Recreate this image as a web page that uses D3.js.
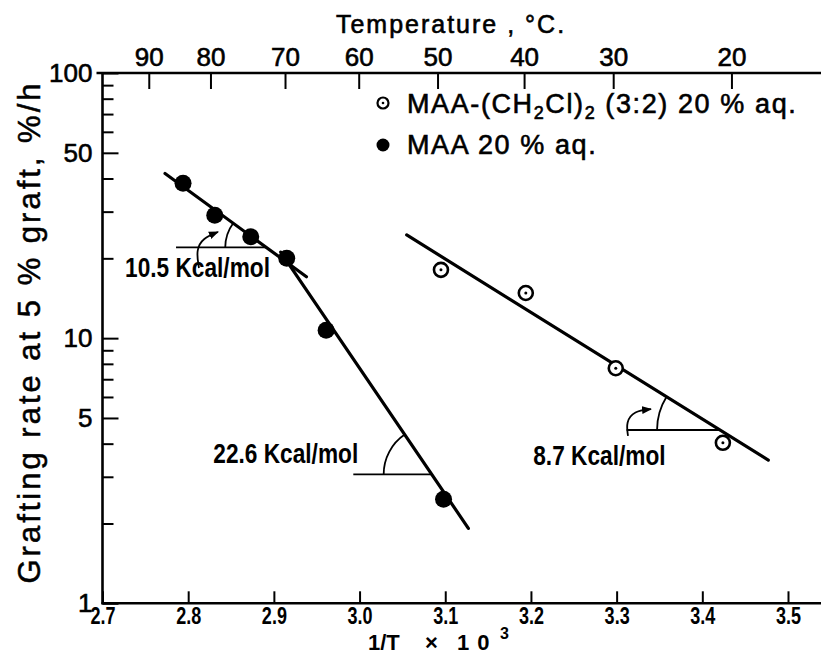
<!DOCTYPE html>
<html>
<head>
<meta charset="utf-8">
<script src="https://cdn.jsdelivr.net/npm/d3@7"></script>
<style>
  body { margin: 0; background: #fff; }
  svg { display: block; }
</style>
</head>
<body>
<svg id="chart" width="821" height="665"></svg>
<script>
// ---- data: 1/T x 10^3 (K^-1) and grafting rate at 5 % graft (%/h) ----
const maaInvT = [2.794, 2.831, 2.873, 2.915, 2.961, 3.098];
const maaRate = [38.4, 29.1, 24.1, 20.0, 10.7, 2.47];
const mixInvT = [3.095, 3.194, 3.299, 3.424];
const mixRate = [18.1, 14.8, 7.70, 4.03];

// Arrhenius fit lines, each given by its two end points
const fitInvT = [[2.773, 2.938], [2.908, 3.127], [3.055, 3.477]];
const fitRate = [[41.8, 17.05], [21.1, 1.918], [24.5, 3.47]];

// axis ticks
const xTicks = [2.7, 2.8, 2.9, 3.0, 3.1, 3.2, 3.3, 3.4, 3.5];
const xTickLabels = ["2.7", "2.8", "2.9", "3.0", "3.1", "3.2", "3.3", "3.4", "3.5"];
const yTicks = [1, 5, 10, 50, 100];
const yTickLabels = ["1", "5", "10", "50", "100"];
const yMinorTicks = [2, 3, 4, 6, 7, 8, 9, 20, 30, 40, 60, 70, 80, 90];
const tempLabels = ["90", "80", "70", "60", "50", "40", "30", "20"];
const tempInvT = [2.754, 2.826, 2.913, 2.999, 3.091, 3.192, 3.296, 3.434];

// activation-energy notes: fit line, level of the horizontal, its left end,
// arc radius (px), label anchor and optional curved arrow
const noteLabels = ["10.5 Kcal/mol", "22.6 Kcal/mol", "8.7 Kcal/mol"];
const noteLine = [0, 1, 2];
const noteLevel = [22.0, 3.066, 4.504];
const noteFrom = [2.7858, 2.9927, 3.3117];
const noteRadius = [41, 48, 63];
const noteTextInvT = [2.7263, 2.8293, 3.2027];
const noteTextRate = [17.0, 3.38, 3.32];
const noteArrowInvT = [[2.8126, 2.8091, 2.8173, 2.8348], null, [3.3133, 3.3109, 3.3203, 3.3401]];
const noteArrowRate = [[18.39, 21.5, 23.86, 25.14], null, [4.276, 4.829, 5.312, 5.404]];

// ---- layout ----
const W = 821, H = 665;
const svg = d3.select("#chart");
const ink = "#000";
const sans = "'Liberation Sans', Arial, Helvetica, sans-serif";

const x = d3.scaleLinear().domain([2.7, 3.5]).range([102.5, 788]);
const y = d3.scaleLog().domain([1, 100]).range([603.3, 73]);

const x0 = x(2.7), yB = y(1), yT = y(100);

// frame lines (left, bottom, top; the plot runs off the right edge)
svg.append("line").attr("x1", x0).attr("x2", x0).attr("y1", yB + 1).attr("y2", yT - 1)
  .attr("stroke", ink).attr("stroke-width", 2.6);
svg.append("line").attr("x1", x0 - 1).attr("x2", W).attr("y1", yB).attr("y2", yB)
  .attr("stroke", ink).attr("stroke-width", 2.6);
svg.append("line").attr("x1", x0 - 6).attr("x2", W).attr("y1", yT).attr("y2", yT)
  .attr("stroke", ink).attr("stroke-width", 2.6);

// bottom axis: 1/T x 10^3
const gx = svg.append("g").attr("transform", `translate(0,${yB})`)
  .call(d3.axisBottom(x).tickValues(xTicks).tickFormat((d, i) => xTickLabels[i])
    .tickSizeInner(-12).tickSizeOuter(0).tickPadding(4));
gx.select(".domain").remove();
gx.selectAll(".tick line").attr("stroke", ink).attr("stroke-width", 2);
gx.selectAll(".tick text")
  .attr("fill", ink).attr("font-family", sans).attr("font-weight", "bold")
  .attr("font-size", 24).attr("transform", "scale(0.75,1)");

// top axis: temperature in deg C
const gt = svg.append("g").attr("transform", `translate(0,${yT})`)
  .call(d3.axisTop(x).tickValues(tempInvT).tickFormat((d, i) => tempLabels[i])
    .tickSizeInner(-16).tickSizeOuter(0).tickPadding(7));
gt.select(".domain").remove();
gt.selectAll(".tick line").attr("stroke", ink).attr("stroke-width", 2);
gt.selectAll(".tick text")
  .attr("fill", ink).attr("font-family", sans).attr("font-size", 26)
  .attr("stroke", ink).attr("stroke-width", 0.6);

// left axis: log scale, labelled and minor ticks
const gy = svg.append("g").attr("transform", `translate(${x0},0)`)
  .call(d3.axisLeft(y).tickValues(yTicks).tickFormat((d, i) => yTickLabels[i])
    .tickSizeInner(-16).tickSizeOuter(0).tickPadding(10));
gy.select(".domain").remove();
gy.selectAll(".tick line").attr("stroke", ink).attr("stroke-width", 2);
gy.selectAll(".tick text")
  .attr("fill", ink).attr("font-family", sans).attr("font-size", 26)
  .attr("stroke", ink).attr("stroke-width", 0.6);

const gm = svg.append("g").attr("transform", `translate(${x0},0)`)
  .call(d3.axisLeft(y).tickValues(yMinorTicks).tickFormat("").tickSizeInner(-11).tickSizeOuter(0));
gm.select(".domain").remove();
gm.selectAll(".tick line").attr("stroke", ink).attr("stroke-width", 2);

// axis titles
svg.append("text").attr("x", 451).attr("y", 33).attr("text-anchor", "middle")
  .attr("font-family", sans).attr("font-size", 25).attr("letter-spacing", 2)
  .attr("stroke", ink).attr("stroke-width", 0.6)
  .text("Temperature , °C.");

svg.append("text").attr("transform", "translate(40,332) rotate(-90)")
  .attr("text-anchor", "middle").attr("font-family", sans).attr("font-size", 31)
  .attr("letter-spacing", 3).attr("stroke", ink).attr("stroke-width", 0.5)
  .text("Grafting rate at 5 % graft, %/h");

const xTitle = svg.append("g").attr("font-family", sans).attr("font-weight", "bold")
  .attr("font-size", 22).attr("fill", ink);
xTitle.append("text").attr("x", 368).attr("y", 650).text("1/T");
xTitle.append("text").attr("x", 425).attr("y", 650).text("×");
xTitle.append("text").attr("x", 457).attr("y", 650).attr("letter-spacing", 8).text("10");
xTitle.append("text").attr("x", 500).attr("y", 639).attr("font-size", 16).text("3");

// fit lines
const px = (invT, rate) => [x(invT), y(rate)];
svg.append("g").selectAll("line").data(d3.range(fitInvT.length)).join("line")
  .attr("x1", i => x(fitInvT[i][0])).attr("y1", i => y(fitRate[i][0]))
  .attr("x2", i => x(fitInvT[i][1])).attr("y2", i => y(fitRate[i][1]))
  .attr("stroke", ink).attr("stroke-width", 3.2).attr("stroke-linecap", "round");

// activation-energy notes
svg.append("defs").append("marker").attr("id", "head")
  .attr("viewBox", "0 0 10 10").attr("refX", 9).attr("refY", 5)
  .attr("markerWidth", 10).attr("markerHeight", 10)
  .attr("markerUnits", "userSpaceOnUse").attr("orient", "auto")
  .append("path").attr("d", "M0,1 L10,5 L0,9 Z").attr("fill", ink);

noteLabels.forEach((label, k) => {
  const li = noteLine[k];
  const ax = x(fitInvT[li][0]), ay = y(fitRate[li][0]);
  const bx = x(fitInvT[li][1]), by = y(fitRate[li][1]);
  const vy = y(noteLevel[k]);
  const vx = ax + (vy - ay) / (by - ay) * (bx - ax);
  const th = Math.atan2(by - ay, bx - ax);
  const r = noteRadius[k];
  const g = svg.append("g");
  g.append("line").attr("x1", x(noteFrom[k])).attr("x2", vx).attr("y1", vy).attr("y2", vy)
    .attr("stroke", ink).attr("stroke-width", 1.8);
  g.append("path")
    .attr("d", `M${vx - r},${vy} A${r},${r} 0 0 1 ${vx - r * Math.cos(th)},${vy - r * Math.sin(th)}`)
    .attr("fill", "none").attr("stroke", ink).attr("stroke-width", 1.8);
  if (noteArrowInvT[k]) {
    const pts = noteArrowInvT[k].map((v, j) => px(v, noteArrowRate[k][j]));
    g.append("path").attr("d", d3.line().curve(d3.curveBasis)(pts))
      .attr("fill", "none").attr("stroke", ink).attr("stroke-width", 1.8)
      .attr("marker-end", "url(#head)");
  }
  g.append("g")
    .attr("transform", `translate(${x(noteTextInvT[k])},${y(noteTextRate[k])}) scale(0.84,1)`)
    .append("text").attr("font-family", sans).attr("font-weight", "bold")
    .attr("font-size", 27).attr("fill", ink).text(label);
});

// data points
svg.append("g").selectAll("circle").data(maaInvT).join("circle")
  .attr("cx", d => x(d)).attr("cy", (d, i) => y(maaRate[i])).attr("r", 8.5).attr("fill", ink);

const mix = svg.append("g").selectAll("g").data(mixInvT).join("g")
  .attr("transform", (d, i) => `translate(${x(d)},${y(mixRate[i])})`);
mix.append("circle").attr("r", 7).attr("fill", "#fff").attr("stroke", ink).attr("stroke-width", 2.6);
mix.append("circle").attr("r", 1.5).attr("fill", ink);

// legend
const leg = svg.append("g");
leg.append("circle").attr("cx", 383).attr("cy", 103).attr("r", 5.5)
  .attr("fill", "#fff").attr("stroke", ink).attr("stroke-width", 2.2);
leg.append("circle").attr("cx", 383).attr("cy", 103).attr("r", 1.3).attr("fill", ink);
leg.append("circle").attr("cx", 383).attr("cy", 145).attr("r", 6.5).attr("fill", ink);

const t1 = leg.append("text").attr("x", 407).attr("y", 113)
  .attr("font-family", sans).attr("font-size", 27).attr("letter-spacing", 1.6)
  .attr("stroke", ink).attr("stroke-width", 0.6);
t1.append("tspan").text("MAA-(CH");
t1.append("tspan").attr("dy", 6).attr("font-size", 18).text("2");
t1.append("tspan").attr("dy", -6).text("Cl)");
t1.append("tspan").attr("dy", 6).attr("font-size", 18).text("2");
t1.append("tspan").attr("dy", -6).text(" (3:2) 20 % aq.");

leg.append("text").attr("x", 407).attr("y", 154)
  .attr("font-family", sans).attr("font-size", 27).attr("letter-spacing", 1.6)
  .attr("stroke", ink).attr("stroke-width", 0.6)
  .text("MAA 20 % aq.");
</script>
</body>
</html>
